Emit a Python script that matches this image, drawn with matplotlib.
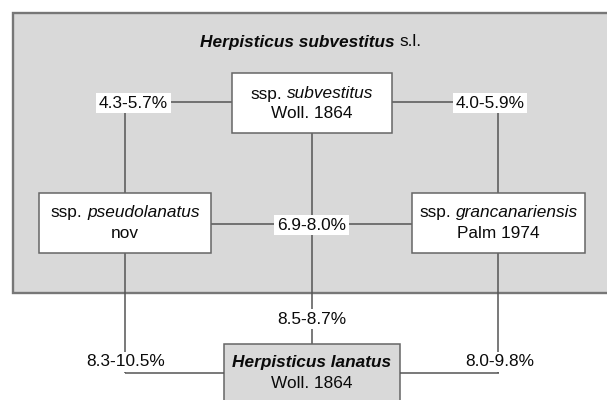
import matplotlib
matplotlib.use('Agg')
import matplotlib.pyplot as plt
from matplotlib.patches import Rectangle

plt.rcParams['font.family'] = ['Liberation Sans', 'DejaVu Sans']

# node texts: each line is a list of (text, style, weight) pieces
group_title = [('Herpisticus subvestitus', 'italic', 'bold'), (' s.l.', 'normal', 'normal')]
node_top = [[('ssp. ', 'normal', 'normal'), ('subvestitus', 'italic', 'normal')],
            [('Woll. 1864', 'normal', 'normal')]]
node_left = [[('ssp. ', 'normal', 'normal'), ('pseudolanatus', 'italic', 'normal')],
             [('nov', 'normal', 'normal')]]
node_right = [[('ssp. ', 'normal', 'normal'), ('grancanariensis', 'italic', 'normal')],
              [('Palm 1974', 'normal', 'normal')]]
node_bottom = [[('Herpisticus lanatus', 'italic', 'bold')],
               [('Woll. 1864', 'normal', 'normal')]]

# pairwise distances
dist_top_left = '4.3-5.7%'
dist_top_right = '4.0-5.9%'
dist_left_right = '6.9-8.0%'
dist_top_bottom = '8.5-8.7%'
dist_left_bottom = '8.3-10.5%'
dist_right_bottom = '8.0-9.8%'

W, H = 607, 400
fig = plt.figure(figsize=(W / 100, H / 100), dpi=100)
ax = fig.add_axes([0, 0, 1, 1])
ax.set_xlim(0, W)
ax.set_ylim(H, 0)
ax.axis('off')
renderer = fig.canvas.get_renderer()

FS = 12.4
txt_col = '#0a0a0a'
line_col = '#555555'
gray = '#d9d9d9'


def rich(x, y, parts, size=FS):
    texts = []
    for s, style, weight in parts:
        lead = s.startswith(' ')
        trail = s.endswith(' ')
        t = ax.text(0, y, s.strip(), fontsize=size, fontstyle=style, fontweight=weight,
                    ha='left', va='center', color=txt_col, zorder=5)
        w = t.get_window_extent(renderer).width
        sp = 0.278 * size * 100 / 72
        texts.append((t, w, sp * lead, sp * trail))
    total = sum(w + a + b for _, w, a, b in texts)
    cx = x - total / 2
    for t, w, a, b in texts:
        cx += a
        t.set_x(cx)
        cx += w + b


def node(x0, x1, y0, y1, lines, fill='white', ys=None):
    ax.add_patch(Rectangle((x0, y0), x1 - x0, y1 - y0, facecolor=fill,
                           edgecolor='#666666', lw=1.1, zorder=3))
    cx = (x0 + x1) / 2
    for parts, y in zip(lines, ys):
        rich(cx, y, parts)


def label(x, y, s):
    ax.text(x, y, s, fontsize=FS, ha='center', va='center', color=txt_col, zorder=4,
            bbox=dict(facecolor='white', edgecolor='none', pad=2.0))


def seg(xs, ys, z=2):
    ax.plot(xs, ys, color=line_col, lw=1.1, zorder=z, solid_capstyle='butt')


# group box
ax.add_patch(Rectangle((12.5, 12.5), 620, 280.5, facecolor=gray,
                       edgecolor='#777777', lw=1.7, zorder=1))
rich(311, 42, group_title)

# connectors
seg([125, 231.5], [102, 102])
seg([392, 498], [102, 102])
seg([125, 125], [102, 193])
seg([498, 498], [102, 193])
seg([312, 312], [133, 344])
seg([211, 412], [224, 224])
seg([125, 125], [253, 373])
seg([124.5, 224], [373, 373], z=4.5)
seg([498, 498], [253, 373])
seg([400, 498.5], [373, 373], z=4.5)

# nodes
node(231.5, 392, 73, 133, node_top, ys=[94, 113])
node(39, 211, 193, 253, node_left, ys=[213, 234])
node(412, 585, 193, 253, node_right, ys=[213, 234])
node(224, 400, 344, 420, node_bottom, fill=gray, ys=[363, 383])

# distance labels
label(133.5, 103, dist_top_left)
label(490, 103, dist_top_right)
label(311.5, 225, dist_left_right)
label(312, 319, dist_top_bottom)
label(125.5, 362, dist_left_bottom)
label(500, 362, dist_right_bottom)

fig.savefig('out.png', dpi=100)
